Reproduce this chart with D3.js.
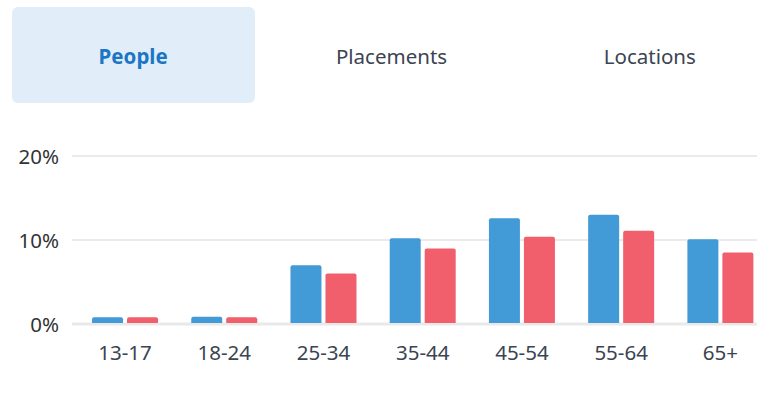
<!DOCTYPE html>
<html>
<head>
<meta charset="utf-8">
<script src="https://cdn.jsdelivr.net/npm/d3@7"></script>
<style>
  html, body { margin: 0; padding: 0; background: #fff; }
  svg { display: block; font-family: "Noto Sans", "Open Sans", sans-serif; }
</style>
</head>
<body>
<div id="viz"></div>
<script>
// données
var tabs = ['People', 'Placements', 'Locations'];
var ageGroups = ['13-17', '18-24', '25-34', '35-44', '45-54', '55-64', '65+'];
var seriesBlue = [0.8, 0.85, 7.0, 10.2, 12.6, 13.0, 10.1];
var seriesRed = [0.8, 0.8, 6.0, 9.0, 10.4, 11.1, 8.5];
var yTicks = [0, 10, 20];

var W = 757, H = 416;
var svg = d3.select('#viz').append('svg')
  .attr('width', W)
  .attr('height', H);

// onglets
var tabX = d3.scaleBand().domain(tabs).range([4, 779]);
svg.append('rect')
  .attr('x', 12).attr('y', 7)
  .attr('width', 243).attr('height', 96)
  .attr('rx', 6)
  .style('fill', '#e1edf8');
svg.selectAll('text.tab').data(tabs).join('text')
  .attr('class', 'tab')
  .attr('x', d => tabX(d) + tabX.bandwidth() / 2)
  .attr('y', 56)
  .attr('text-anchor', 'middle')
  .attr('dominant-baseline', 'central')
  .style('font-size', '20.5px')
  .style('font-weight', (d, i) => i == 0 ? 700 : 400)
  .style('fill', (d, i) => i == 0 ? '#1b76c6' : '#3b4452')
  .text(d => d);

// échelles
var x = d3.scaleBand().domain(ageGroups).range([75.4, 770]);
var y = d3.scaleLinear().domain([0, 20]).range([324, 156]);

// grille
svg.selectAll('line.grid').data(yTicks).join('line')
  .attr('class', 'grid')
  .attr('x1', 72).attr('x2', W)
  .attr('y1', d => y(d)).attr('y2', d => y(d))
  .style('stroke', d => d == 0 ? '#e9e9e9' : '#e3e3e3')
  .style('stroke-width', d => d == 0 ? 3 : 1.5);

svg.selectAll('text.ytick').data(yTicks).join('text')
  .attr('class', 'ytick')
  .attr('x', 59)
  .attr('y', d => y(d))
  .attr('text-anchor', 'end')
  .attr('dominant-baseline', 'central')
  .style('font-size', '20.5px')
  .style('fill', '#333')
  .text(d => d + '%');

// barres
var barW = 31, gap = 4;
function bar(d, i, side) {
  var v = side == 0 ? seriesBlue[i] : seriesRed[i];
  var cx = x(d) + x.bandwidth() / 2;
  var x0 = side == 0 ? cx - gap / 2 - barW : cx + gap / 2;
  var y0 = y(v), y1 = y(0) - 1, r = 2;
  return 'M' + x0 + ',' + y1 + 'V' + (y0 + r) + 'Q' + x0 + ',' + y0 + ' ' + (x0 + r) + ',' + y0 +
    'H' + (x0 + barW - r) + 'Q' + (x0 + barW) + ',' + y0 + ' ' + (x0 + barW) + ',' + (y0 + r) +
    'V' + y1 + 'Z';
}
svg.selectAll('path.blue').data(ageGroups).join('path')
  .attr('class', 'blue')
  .attr('d', (d, i) => bar(d, i, 0))
  .style('fill', '#429bd7');
svg.selectAll('path.red').data(ageGroups).join('path')
  .attr('class', 'red')
  .attr('d', (d, i) => bar(d, i, 1))
  .style('fill', '#f05f6b');

// étiquettes x
svg.selectAll('text.xtick').data(ageGroups).join('text')
  .attr('class', 'xtick')
  .attr('x', d => x(d) + x.bandwidth() / 2)
  .attr('y', 352)
  .attr('text-anchor', 'middle')
  .attr('dominant-baseline', 'central')
  .style('font-size', '20.5px')
  .style('fill', '#3b4452')
  .text(d => d);
</script>
</body>
</html>
